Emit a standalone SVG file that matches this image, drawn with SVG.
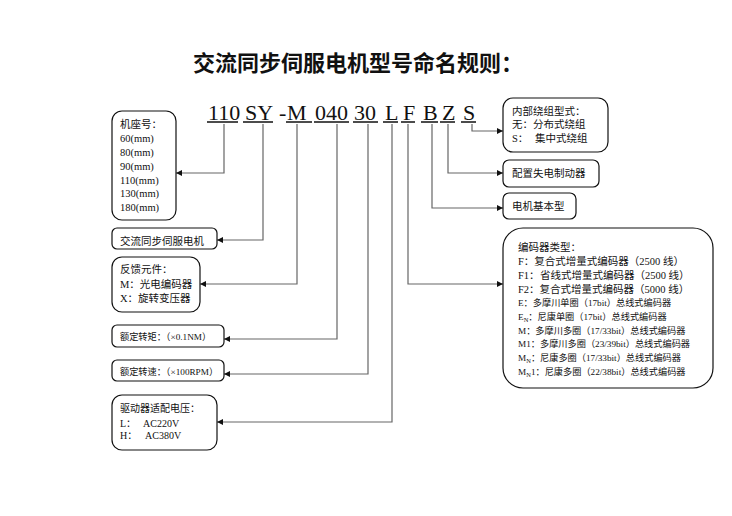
<svg xmlns="http://www.w3.org/2000/svg" width="732" height="516" viewBox="0 0 732 516">
<style>
.bg{fill:#fff}
.box{fill:#fff;stroke:#111;stroke-width:1.2}
.t{font-family:"Liberation Serif","Noto Sans CJK SC",serif;fill:#111}
.s105{font-size:10.5px}
.s10{font-size:10px}
.s9{font-size:9.2px}
.title{font-family:"Noto Sans CJK SC","Noto Sans",sans-serif;font-weight:bold;font-size:22px;fill:#111}
.code{font-family:"Liberation Serif",serif;font-size:22px;fill:#111}
.ul{stroke:#111;stroke-width:1.5}
.con{fill:none;stroke:#666;stroke-width:1.2;marker-end:url(#ah)}
</style>
<defs>
<marker id="ah" markerUnits="userSpaceOnUse" markerWidth="6" markerHeight="6" refX="6" refY="3" orient="auto">
<path d="M0,0 L6,3 L0,6 z" fill="#111"/>
</marker>
</defs>
<rect class="bg" x="0" y="0" width="732" height="516"/>
<text class="title" x="193" y="71">交流同步伺服电机型号命名规则：</text>
<g id="code">
<text class="code" x="208" y="120">110</text>
<text class="code" x="245" y="120">SY</text>
<text class="code" x="279" y="120">-</text>
<text class="code" x="287" y="120">M</text>
<text class="code" x="315" y="120">040</text>
<text class="code" x="354" y="120">30</text>
<text class="code" x="385" y="120">L</text>
<text class="code" x="403" y="120">F</text>
<text class="code" x="423" y="120">B</text>
<text class="code" x="442" y="120">Z</text>
<text class="code" x="463" y="120">S</text>
<line class="ul" x1="207" y1="122" x2="238" y2="122"/>
<line class="ul" x1="243" y1="122" x2="273" y2="122"/>
<line class="ul" x1="286" y1="122" x2="312" y2="122"/>
<line class="ul" x1="314" y1="122" x2="349" y2="122"/>
<line class="ul" x1="353" y1="122" x2="378" y2="122"/>
<line class="ul" x1="383" y1="122" x2="398" y2="122"/>
<line class="ul" x1="401" y1="122" x2="415" y2="122"/>
<line class="ul" x1="421" y1="122" x2="438" y2="122"/>
<line class="ul" x1="440" y1="122" x2="455" y2="122"/>
<line class="ul" x1="461" y1="122" x2="476" y2="122"/>
</g>
<g id="connectors">
<path class="con" d="M224,124 V173 H176"/>
<path class="con" d="M263,124 V240 H217"/>
<path class="con" d="M297,124 V284 H200"/>
<path class="con" d="M337,124 V339 H224"/>
<path class="con" d="M368,124 V374 H224"/>
<path class="con" d="M392,124 V422 H217"/>
<path class="con" d="M408,124 V284 H503"/>
<path class="con" d="M432,124 V208 H503"/>
<path class="con" d="M448,124 V173 H503"/>
<path class="con" d="M472,124 V131 H503"/>
</g>
<g id="frame">
<rect class="box" x="112" y="111" width="64" height="109" rx="10"/>
<text class="t s105" x="120" y="128">机座号：</text>
<text class="t s105" x="120" y="142">60(mm)</text>
<text class="t s105" x="120" y="156">80(mm)</text>
<text class="t s105" x="120" y="170">90(mm)</text>
<text class="t s105" x="120" y="184">110(mm)</text>
<text class="t s105" x="120" y="197">130(mm)</text>
<text class="t s105" x="120" y="211">180(mm)</text>
</g>
<g id="type">
<rect class="box" x="112" y="228" width="105" height="21" rx="5"/>
<text class="t s105" x="120" y="245">交流同步伺服电机</text>
</g>
<g id="feedback">
<rect class="box" x="112" y="257" width="88" height="55" rx="10"/>
<text class="t s105" x="120" y="273">反馈元件：</text>
<text class="t s105" x="120" y="288">M：光电编码器</text>
<text class="t s105" x="120" y="302">X：旋转变压器</text>
</g>
<g id="torque">
<rect class="box" x="112" y="325" width="112" height="22" rx="5"/>
<text class="t s9" x="120" y="340">额定转矩：（×0.1NM）</text>
</g>
<g id="speed">
<rect class="box" x="112" y="360" width="112" height="21" rx="5"/>
<text class="t s9" x="120" y="375">额定转速：（×100RPM）</text>
</g>
<g id="voltage">
<rect class="box" x="112" y="395" width="105" height="55" rx="10"/>
<text class="t s10" x="120" y="412">驱动器适配电压：</text>
<text class="t s10" x="120" y="427">L：</text>
<text class="t s10" x="143" y="427">AC220V</text>
<text class="t s10" x="120" y="439">H：</text>
<text class="t s10" x="145" y="439">AC380V</text>
</g>
<g id="winding">
<rect class="box" x="503" y="98" width="105" height="54" rx="10"/>
<text class="t s105" x="512" y="115">内部绕组型式：</text>
<text class="t s105" x="512" y="128">无：分布式绕组</text>
<text class="t s105" x="512" y="142">S：</text>
<text class="t s105" x="535" y="142">集中式绕组</text>
</g>
<g id="brake">
<rect class="box" x="503" y="160" width="96" height="27" rx="6"/>
<text class="t s105" x="512" y="177">配置失电制动器</text>
</g>
<g id="basic">
<rect class="box" x="503" y="193" width="73" height="26" rx="6"/>
<text class="t s105" x="512" y="210">电机基本型</text>
</g>
<g id="encoder">
<rect class="box" x="503" y="228" width="210" height="160" rx="20"/>
<text class="t s105" x="518" y="251">编码器类型：</text>
<text class="t s105" x="518" y="265">F：复合式增量式编码器（2500 线）</text>
<text class="t s105" x="518" y="279">F1：<tspan x="540">省线式增量式编码器（2500 线）</tspan></text>
<text class="t s105" x="518" y="293">F2：复合式增量式编码器（5000 线）</text>
<text class="t s9" x="518" y="306">E：多摩川单圈（17bit）总线式编码器</text>
<text class="t s9" x="518" y="320">E<tspan font-size="6.5px" dy="2">N</tspan><tspan dy="-2">：尼康单圈（17bit）总线式编码器</tspan></text>
<text class="t s9" x="518" y="334">M：多摩川多圈（17/33bit）总线式编码器</text>
<text class="t s9" x="518" y="347">M1：多摩川多圈（23/39bit）总线式编码器</text>
<text class="t s9" x="518" y="361">M<tspan font-size="6.5px" dy="2">N</tspan><tspan dy="-2">：尼康多圈（17/33bit）总线式编码器</tspan></text>
<text class="t s9" x="518" y="375">M<tspan font-size="6.5px" dy="2">N</tspan><tspan dy="-2">1：尼康多圈（22/38bit）总线式编码器</tspan></text>
</g>
</svg>
